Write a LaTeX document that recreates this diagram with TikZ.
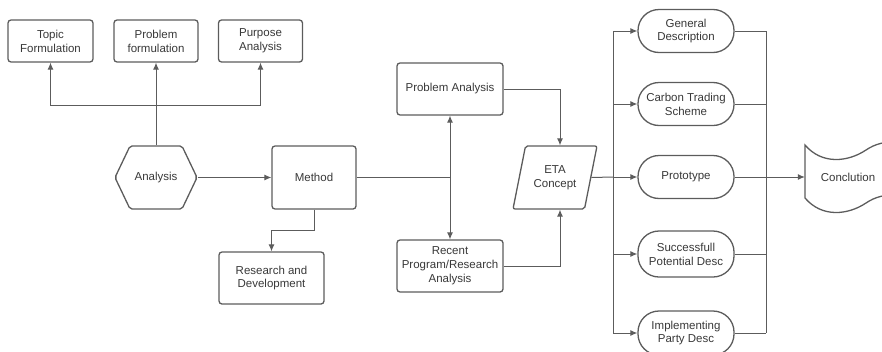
\documentclass[tikz,border=0pt]{standalone}
\usepackage{fontspec}
\setmainfont{Liberation Sans}
\usetikzlibrary{arrows.meta,shapes.geometric,shapes.symbols}
\definecolor{linegray}{rgb}{0.36,0.36,0.36}
\definecolor{textgray}{rgb}{0.22,0.22,0.22}
\tikzset{box/.style = {shape=rectangle, draw=linegray, line width=1.3pt, rounded corners=3pt,
  align=center, text=textgray, font=\fontsize{11.5}{13.8}\selectfont,
  minimum width=84pt, minimum height=42pt, inner sep=2pt}}
\tikzset{pill/.style = {box, rounded corners=21pt, minimum width=96pt, minimum height=43pt}}
\tikzset{link/.style = {draw=linegray, line width=1pt, -{Latex[length=7pt,width=6pt]}}}
\tikzset{plain/.style = {draw=linegray, line width=1pt}}

\begin{document}
\begin{tikzpicture}[x=1pt,y=-1pt]
\useasboundingbox (0,0) rectangle (882,351);
% top row
\node[box, minimum width=85pt] (topic) at (50.5,41) {Topic\\Formulation};
\node[box] (probform) at (156,41) {Problem\\formulation};
\node[box] (purpose) at (260.5,41) {Purpose\\Analysis};
% left part
\node[box, shape=signal, signal to=east and west, signal pointer angle=129,
  rounded corners=2pt, minimum width=82pt, minimum height=63pt] (analysis) at (156,177.5) {Analysis};
\node[box, minimum height=63pt] (method) at (314,177.5) {Method};
\node[box, minimum width=105pt, minimum height=52pt] (rd) at (271.5,278) {Research and\\Development};
% middle
\node[box, minimum width=106pt, minimum height=52pt] (pa) at (450,89) {Problem Analysis};
\node[box, minimum width=106pt, minimum height=52pt] (recent) at (450,266) {Recent\\Program/Research\\Analysis};
\node[box, shape=trapezium, trapezium left angle=66, trapezium right angle=114,
  trapezium stretches body, rounded corners=2pt, minimum width=84pt, minimum height=63pt] (eta) at (555,177.5) {ETA\\Concept};
% right column
\node[pill] (general) at (686,31) {General\\Description};
\node[pill] (carbon) at (686,104) {Carbon Trading\\Scheme};
\node[pill] (proto) at (686,177) {Prototype};
\node[pill, minimum height=46pt] (success) at (686,254) {Successfull\\Potential Desc};
\node[pill, minimum height=44pt] (implement) at (686,333) {Implementing\\Party Desc};
\node[text=textgray, font=\fontsize{11.5}{13.8}\selectfont, minimum width=86pt, minimum height=53pt] (concl) at (848,177) {Conclution};
\draw[draw=linegray, line width=1.3pt] (900,142) .. controls (885,141) and (875,144) .. (866,150)
  .. controls (848,162) and (822,165) .. (805,145) -- (805,198)
  .. controls (822,218) and (848,215) .. (866,203) .. controls (875,197) and (885,194) .. (900,195);

\coordinate (split) at (156,105);
\coordinate (mjoin) at (450,177.5);
\coordinate (lbus) at (613,177);
\coordinate (rbus) at (766,177);

%edges
\draw[link] (analysis.north) -- (probform.south);
\draw[link] (split) -| (topic.south);
\draw[link] (split) -| (purpose.south);
\draw[link] (analysis.east) -- (method.west);
\draw[link] (method.south) -- ++(0,21) -| (rd.north);

\draw[plain] (method.east) -- (mjoin);
\draw[link] (mjoin) -- (pa.south);
\draw[link] (mjoin) -- (recent.north);
\draw[link] (pa.east) -| ([xshift=5pt]eta.north);
\draw[link] (recent.east) -| ([xshift=5pt]eta.south);

\draw[plain] (eta.east) -- (lbus);
\draw[plain] (lbus |- general) -- (lbus |- implement);
\foreach \n in {general,carbon,proto,success,implement}
  \draw[link] (lbus |- \n) -- (\n.west);
\foreach \n in {general,carbon,proto,success,implement}
  \draw[plain] (\n.east) -- (rbus |- \n);
\draw[plain] (rbus |- general) -- (rbus |- implement);
\draw[link] (rbus) -- (concl.west);
\end{tikzpicture}
\end{document}
